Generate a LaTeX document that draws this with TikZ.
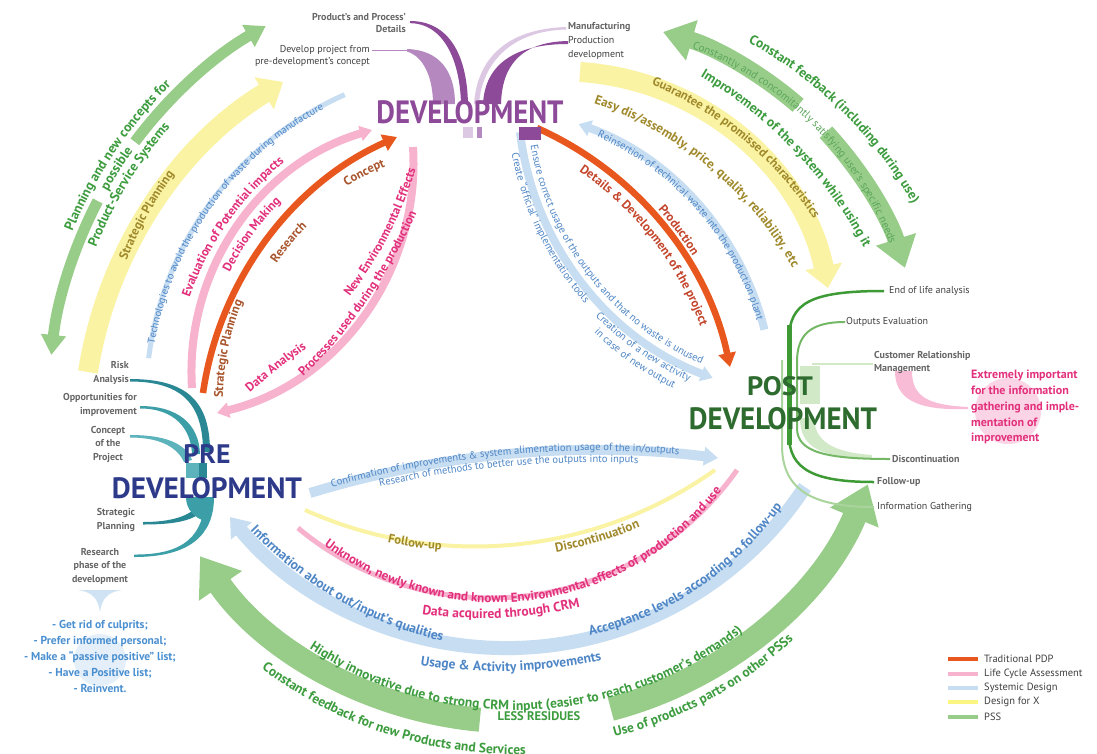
\documentclass[tikz,border=0pt]{standalone}
\usepackage{fontspec}
\setmainfont{PT Sans}
\usepackage{xfp}
\usepackage{graphicx}
\usetikzlibrary{arrows.meta,decorations.text}
\definecolor{cOr}{HTML}{E8571D}
\definecolor{cOrT}{HTML}{A9562E}
\definecolor{cOrT2}{HTML}{C4452B}
\definecolor{cPk}{HTML}{F7B3CE}
\definecolor{cPkT}{HTML}{E2307C}
\definecolor{cBl}{HTML}{C7DDF1}
\definecolor{cBlT}{HTML}{4E86C6}
\definecolor{cYe}{HTML}{FAF3A3}
\definecolor{cYeT}{HTML}{A0892B}
\definecolor{cGr}{HTML}{98CD89}
\definecolor{cGrT}{HTML}{3C9C3E}
\definecolor{cGrT2}{HTML}{5BA65A}
\definecolor{cPu}{HTML}{8C4A98}
\definecolor{cPuL}{HTML}{B588C0}
\definecolor{cPuLL}{HTML}{DCC8E3}
\definecolor{cNavy}{HTML}{2D3A8A}
\definecolor{cDG}{HTML}{2E6B2E}
\definecolor{cTeA}{HTML}{2A8895}
\definecolor{cTeB}{HTML}{3C9FA8}
\definecolor{cTeC}{HTML}{5DB3BB}
\definecolor{cLab}{HTML}{666666}
\definecolor{cLabD}{HTML}{404040}
\definecolor{cGA}{HTML}{3E9A35}
\definecolor{cGB}{HTML}{74B866}
\definecolor{cGC}{HTML}{A9D59C}
\definecolor{cGD}{HTML}{D2E9C8}
\definecolor{cPkL}{HTML}{FBD5E5}
\definecolor{cPkM}{HTML}{F8BCD6}
\definecolor{cBlL}{HTML}{CFE3F4}
\definecolor{cBlLL}{HTML}{E4EFF9}
\definecolor{cBlList}{HTML}{4A8FD0}
\newcommand\fb[1]{\fontsize{#1}{#1}\selectfont\bfseries}
\newcommand\fr[1]{\fontsize{#1}{#1}\selectfont}
\makeatletter
\def\arcfrom#1#2#3#4{\edef\ca@sx{\fpeval{round((#1)+(#3)*cosd(#4),3)}}\edef\ca@sy{\fpeval{round((#2)+(#3)*sind(#4),3)}}}
\newcommand\CB[6]{\arcfrom{#2}{#3}{#4}{#5}\draw[#1] (\ca@sx,\ca@sy) arc[start angle=#5,end angle=#6,radius=#4];}
\newcommand\CT[8]{\arcfrom{#3}{#4}{#5}{#6}\path[decorate,decoration={text along path,text align=center,#1,text={|#2|#8}}] (\ca@sx,\ca@sy) arc[start angle=#6,end angle=#7,radius=#5];}
\def\circ@calc(#1,#2)(#3,#4)(#5,#6){%
 \edef\ca@d{\fpeval{2*((#1)*((#4)-(#6))+(#3)*((#6)-(#2))+(#5)*((#2)-(#4)))}}%
 \edef\ca@cx{\fpeval{round((((#1)^2+(#2)^2)*((#4)-(#6))+((#3)^2+(#4)^2)*((#6)-(#2))+((#5)^2+(#6)^2)*((#2)-(#4)))/\ca@d,4)}}%
 \edef\ca@cy{\fpeval{round((((#1)^2+(#2)^2)*((#5)-(#3))+((#3)^2+(#4)^2)*((#1)-(#5))+((#5)^2+(#6)^2)*((#3)-(#1)))/\ca@d,4)}}%
 \edef\ca@R{\fpeval{round(sqrt(((#1)-\ca@cx)^2+((#2)-\ca@cy)^2),3)}}%
 \edef\ca@a{\fpeval{atand((#2)-\ca@cy,(#1)-\ca@cx)}}%
 \edef\ca@b{\fpeval{atand((#4)-\ca@cy,(#3)-\ca@cx)}}%
 \edef\ca@c{\fpeval{atand((#6)-\ca@cy,(#5)-\ca@cx)}}%
 \edef\ca@db{\fpeval{(\ca@b-\ca@a)-360*floor((\ca@b-\ca@a)/360)}}%
 \edef\ca@dc{\fpeval{(\ca@c-\ca@a)-360*floor((\ca@c-\ca@a)/360)}}%
 \edef\ca@span{\fpeval{(\ca@db<\ca@dc) ? \ca@dc : \ca@dc-360}}%
}
\def\PB#1#2#3(#4)(#5)(#6){%
 \circ@calc(#4)(#5)(#6)%
 \edef\ca@s{\fpeval{round(\ca@a+(#2)*\ca@span,4)}}%
 \edef\ca@e{\fpeval{round(\ca@a+(#3)*\ca@span,4)}}%
 \arcfrom{\ca@cx}{\ca@cy}{\ca@R}{\ca@s}%
 \draw[#1] (\ca@sx,\ca@sy) arc[start angle=\ca@s,end angle=\ca@e,radius=\ca@R];}
\def\PT#1#2(#3)(#4)(#5)#6{%
 \circ@calc(#3)(#4)(#5)%
 \edef\ca@s{\fpeval{round(\ca@a-0.3*\ca@span,4)}}%
 \edef\ca@e{\fpeval{round(\ca@a+1.3*\ca@span,4)}}%
 \arcfrom{\ca@cx}{\ca@cy}{\ca@R}{\ca@s}%
 \path[decorate,decoration={text along path,text align=center,#1,text={|#2|#6}}] (\ca@sx,\ca@sy) arc[start angle=\ca@s,end angle=\ca@e,radius=\ca@R];}
\makeatother
\tikzset{
 lab/.style={font=\fontsize{10}{12}\selectfont, text=cLabD, inner sep=0pt},
 labb/.style={font=\fontsize{10}{13.5}\selectfont\bfseries, text=cLab, inner sep=0pt},
 head/.style={inner sep=0pt, font=\bfseries},
 legtext/.style={anchor=west, inner sep=0pt, font=\fontsize{10.5}{12}\selectfont, text=cLabD}
}
\begin{document}
\begin{tikzpicture}[x=1pt,y=-1pt]
\useasboundingbox (0,0) rectangle (1097,753);
\fill[white] (0,0) rectangle (1097,753);

% ===== bands: pre -> development =====
\CB{cGr,line width=11pt,{Triangle[width=24pt,length=20pt]}-}{480}{400}{431}{186}{207.5}
\CB{cGr,line width=11pt,-{Triangle[width=24pt,length=20pt]}}{480}{400}{431}{216.8}{240.2}
\PB{cYe,line width=20pt,-{Triangle[width=36pt,length=22pt]}}{0}{1}(88,372)(147,215)(283,82)
\CB{cBl,line width=5pt}{480}{400}{334}{187.2}{246.1}
\PB{cPk,line width=8pt,-{Triangle[width=15pt,length=12pt]}}{0}{1}(192,388)(240,223)(372,130)
\PB{cOr,line width=6.5pt,-{Triangle[width=17pt,length=14pt]}}{0}{1}(203,393)(270,236)(397,137)
\PB{cPk,line width=8pt,-{Triangle[width=15pt,length=12pt]}}{0}{1}(413,147)(380,290)(217,413)

% ===== bands: development -> post =====
\PB{cOr,line width=6.5pt,-{Triangle[width=17pt,length=14pt]}}{0}{1}(537,128)(650,210)(730,367)
\CB{cBl,line width=8pt,-{Triangle[width=16pt,length=12pt]}}{480}{400}{293}{346.1}{289.7}
\PB{cYe,line width=20pt,-{Triangle[width=36pt,length=22pt]}}{0}{1}(580,72)(745,142)(828,288)
\PB{cGr,line width=17pt,{Triangle[width=40pt,length=30pt]}-}{0}{0.44}(663,32)(812,118)(905,268)
\PB{cGr,line width=17pt,-{Triangle[width=40pt,length=30pt]}}{0.55}{1}(663,32)(812,118)(905,268)
\CB{cBl,line width=8pt,-{Triangle[width=15pt,length=12pt]}}{818.5}{96.6}{300.6}{173.2}{110.6}

% ===== bands: post -> pre =====
\PB{cBl,line width=10pt,-{Triangle[width=18pt,length=14pt]}}{0}{1}(310,493)(500,455)(718,458)
\PB{cYe,line width=4pt}{0}{1}(305,510)(510,545)(715,470)
\PB{cPk,line width=5pt}{0}{1}(298,528)(525,596)(737,470)
\PB{cBl,line width=14pt,-{Triangle[width=26pt,length=18pt]}}{0}{1}(805,487)(515,648)(230,517)
\CB{cGr,line width=24pt,{Triangle[width=50pt,length=36pt]}-}{514.5}{339.3}{382}{145.4}{95.2}
\CB{cGr,line width=24pt,-{Triangle[width=50pt,length=36pt]}}{514.5}{339.3}{382}{75.4}{22.3}

% ===== fans =====
% development (purple)
\draw[cPuL,line width=1pt] (372,50) -- (408,50);
\fill[cPuL] (407,49) .. controls (440,50) and (455,72) .. (455,104) -- (433,104) .. controls (433,80) and (425,57) .. (407,51.5) -- cycle;
\fill[cPu] (410,21) .. controls (447,21) and (467,52) .. (468,104) -- (461,104) .. controls (460,58) and (442,23) .. (410,23.2) -- cycle;
\fill[cPuLL] (566,27) .. controls (505,29) and (477,60) .. (474,104) -- (479,104) .. controls (482,64) and (510,31) .. (566,29.5) -- cycle;
\fill[cPu] (568,41) .. controls (520,42) and (502,66) .. (501,104) -- (483,104) .. controls (485,64) and (515,44) .. (568,44) -- cycle;
\fill[cPuLL] (463,127) rectangle (473,138);
\fill[cPuL] (477,127) rectangle (482,138);
\fill[cPu] (519,127) rectangle (541,140);
% pre development (teal)
\fill[cTeA] (130,379) .. controls (188,379) and (210,402) .. (210,452) -- (203,452) .. controls (203,407) and (185,381.5) .. (130,381.5) -- cycle;
\fill[cTeB] (140,406) .. controls (178,406) and (199,424) .. (200,454) -- (192,454) .. controls (191,430) and (176,408.5) .. (140,408.5) -- cycle;
\fill[cTeC] (130,435) .. controls (165,435) and (185,443) .. (192,460) -- (184,462) .. controls (178,449) and (163,437.5) .. (130,437.5) -- cycle;
\fill[cTeC] (186,463) rectangle (199,478);
\fill[cTeA] (199,463) rectangle (207,478);
\fill[cTeA] (143,522) .. controls (180,522) and (198,512) .. (202,497) -- (210,497) .. controls (205,518) and (185,524.5) .. (143,524.5) -- cycle;
\fill[cTeB] (134,554.5) .. controls (185,555) and (204,535) .. (205,497) -- (214,497) .. controls (214,535) and (190,557) .. (134,557) -- cycle;
\fill[cTeB] (186,497) .. controls (186,510) and (195,518) .. (205,521) -- (212,497) -- cycle;
% post development (green)
\fill[cGD] (800,366) rectangle (820,404);
\fill[cGD] (800,418) .. controls (800,447) and (820,458) .. (872,458) -- (872,455) .. controls (830,452) and (815,440) .. (814,418) -- cycle;
\draw[cGD,line width=1.5pt] (873,364) -- (812,364);
\draw[cGA,line width=2.5pt] (884,291) .. controls (810,291) and (789,303) .. (789,340) -- (789,435) .. controls (789,470) and (815,482) .. (874,482);
\draw[cGA,line width=5pt] (789,325) -- (789,445);
\draw[cGB,line width=2pt] (845,322) .. controls (810,322) and (797,335) .. (797,362) -- (797,428) .. controls (797,452) and (825,459) .. (890,459);
\draw[cGC,line width=2pt] (874,507) .. controls (808,507) and (782,487) .. (782,445) -- (782,360);
% CRM note blob
\fill[cPkL] (1008,411) circle (33);
\fill[cPkM] (895,371) -- (912,371) .. controls (912,397) and (928,405) .. (968,407) -- (968,409) .. controls (915,411) and (895,398) .. (895,371) -- cycle;
% list funnel and circle
\fill[cBlL] (78,590) .. controls (92,592) and (98,598) .. (100,612) .. controls (102,598) and (108,592) .. (122,590) -- cycle;
\fill[cBlLL] (100,660) circle (26);

% ===== texts: pre -> development =====
\CT{text color=cGrT}{\fb{13.5}}{480}{400}{441}{196}{232}{Planning and new concepts for}
\CT{text color=cGrT}{\fb{13.5}}{480}{400}{427}{204}{221}{possible}
\CT{text color=cGrT}{\fb{13.5}}{480}{400}{413}{196}{227}{Product-Service Systems}
\CT{text color=cYeT}{\fb{12.5}}{480}{400}{380}{195}{223}{Strategic Planning}
\CT{text color=cBlT}{\fr{10.5}}{480}{400}{330}{180}{251.4}{Technologies to avoid the production of waste during manufacture}
\CT{text color=cPkT}{\fb{12.5}}{480}{400}{308}{193}{237}{Evaluation of Potential impacts}
\CT{text color=cPkT}{\fb{12.5}}{480}{400}{281}{202}{230}{Decision Making}
\CT{text color=cOrT}{\fb{12.5}}{480}{400}{257}{174}{209}{Strategic Planning}
\CT{text color=cOrT}{\fb{12.5}}{480}{400}{245}{209}{230}{Research}
\CT{text color=cOrT}{\fb{12.5}}{480}{400}{252}{234}{252}{Concept}
\PT{text color=cPkT}{\fb{12.5}}(345,303)(389,235)(418,162){New Environmental Effects}
\PT{text color=cPkT}{\fb{12.5}}(297,383)(368,300)(420,205){Processes used during the production}
\PT{text color=cPkT}{\fb{12.5}}(247,395)(281,367)(310,346){Data Analysis}

% ===== texts: development -> post =====
\CT{text color=cOrT2}{\fb{12.5}}{399}{437}{321}{296}{348}{Details {\&} Development of the project}
\CT{text color=cOrT2}{\fb{12.5}}{399}{437}{345}{313}{334}{Production}
\CT{text color=cBlT}{\fr{10.5}}{480}{400}{288}{284}{354}{Reinsertion of technical waste into the production plant}
\PT{text color=cYeT}{\fb{12.5}}(637,79)(742,139)(822,232){Guarantee the promissed characteristics}
\PT{text color=cYeT}{\fb{13}}(587,101)(709,168)(796,274){Easy dis/assembly, price, quality, reliability, etc}
\PT{text color=cGrT}{\fb{13.5}}(740,38)(839,109)(917,212){Constant feefback (including during use)}
\PT{text color=cGrT}{\fb{13.5}}(696,74)(795,152)(866,252){Improvement of the system while using it}
\PT{text color=cGrT2}{\fr{11}}(668,40)(809,122)(898,268){Constantly and concomitantly satisfying user's specific needs}
\CT{text color=cBlT}{\fr{10.5}}{818.5}{96.6}{292}{178}{106}{Ensure correct usage of the outputs and that no waste is unused}
\CT{text color=cBlT}{\fr{10.5}}{818.5}{96.6}{312}{176}{132}{Create “official” implementation tools}
\CT{text color=cBlT}{\fr{10.5}}{818.5}{96.6}{313}{140}{110}{Creation of a new activity}
\CT{text color=cBlT}{\fr{10.5}}{818.5}{96.6}{326}{138}{112}{in case of new output}

% ===== texts: post -> pre =====
\CT{text color=cBlT}{\fr{10.5}}{595.6}{1427.3}{976.5}{251}{278.2}{Confirmation of improvements {\&} system alimentation usage of the in/outputs}
\CT{text color=cBlT}{\fr{10.5}}{595.6}{1427.3}{965}{254.5}{275.1}{Research of methods to better use the outputs into inputs}
\PT{text color=cYeT}{\fb{12.5}}(387,542)(414,547)(442,550){Follow-up}
\PT{text color=cYeT}{\fb{13}}(553,553)(598,542)(643,526){Discontinuation}
\PT{text color=cPkT}{\fb{13}}(310,534)(525,601)(732,476){Unknown, newly known and known Environmental effects of production and use}
\PT{text color=cPkT}{\fb{13.5}}(422,614)(500,618)(580,607){Data acquired through CRM}
\PT{text color=cBlT}{\fb{13.5}}(248,528)(335,598)(445,642){Information about out/input's qualities}
\PT{text color=cBlT}{\fb{13.5}}(588,636)(693,592)(783,505){Acceptance levels according to follow-up}
\PT{text color=cBlT}{\fb{13.5}}(420,665)(510,671)(602,660){Usage {\&} Activity improvements}
\CT{text color=cGrT}{\fb{13.5}}{514.5}{339.3}{371}{137.8}{37.8}{Highly innovative due to strong CRM input (easier to reach customer's demands)}
\CT{text color=cGrT}{\fb{13.5}}{514.5}{339.3}{415}{138}{78}{Constant feedback for new Products and Services}
\CT{text color=cGrT}{\fb{13.5}}{514.5}{339.3}{410}{86}{37}{Use of products parts on other PSSs}
\node[inner sep=0pt, text=cGrT, font=\fb{12.5}] (less) at (539,716) {LESS RESIDUES};

% ===== headings =====
\node[head, text=cPu] (dev) at (470,112) {\resizebox{187pt}{23pt}{\bfseries DEVELOPMENT}};
\node[head, text=cNavy] (pre) at (207,454) {\resizebox{47pt}{19pt}{\bfseries PRE}};
\node[head, text=cNavy] (pred) at (207,488) {\resizebox{190pt}{21pt}{\bfseries DEVELOPMENT}};
\node[head, text=cDG] (post) at (780,386) {\resizebox{66pt}{19pt}{\bfseries POST}};
\node[head, text=cDG] (postd) at (783,419) {\resizebox{188pt}{22pt}{\bfseries DEVELOPMENT}};

% ===== labels =====
\node[labb, anchor=east, align=right, font=\fontsize{10}{12}\selectfont\bfseries] (dl1) at (406,23) {Product's and Process'\\Details};
\node[lab, anchor=east, align=right, font=\fontsize{10}{12.5}\selectfont] (dl2) at (370,56) {Develop project from\\pre-development's concept};
\node[lab, anchor=west, align=left, font=\fontsize{10}{14}\selectfont] (dl3) at (568,41) {\textcolor{cLab}{\bfseries Manufacturing}\\Production\\development};
\node[labb, anchor=east, align=right] (pl1) at (129,373) {Risk\\Analysis};
\node[labb, anchor=east, align=right] (pl2) at (137,405) {Opportunities for\\improvement};
\node[labb, align=center] (pl3) at (108,444) {Concept\\of the\\Project};
\node[labb, align=center] (pl4) at (116,520) {Strategic\\Planning};
\node[labb, align=center] (pl5) at (100,566) {Research\\phase of the\\development};
\node[lab, anchor=west] (ql1) at (889,291) {End of life analysis};
\node[lab, anchor=west] (ql2) at (846,322) {Outputs Evaluation};
\node[labb, anchor=west, align=left, font=\fontsize{10}{13}\selectfont\bfseries] (ql3) at (874,362) {Customer Relationship\\Management};
\node[labb, anchor=west] (ql4) at (892,459) {Discontinuation};
\node[labb, anchor=west] (ql5) at (877,482) {Follow-up};
\node[lab, anchor=west] (ql6) at (877,507) {Information Gathering};
\node[anchor=north west, align=left, inner sep=0pt, font=\fontsize{12}{15.8}\selectfont\bfseries, text=cPkT] (note) at (971,370) {Extremely important\\for the information\\gathering and imple-\\mentation of\\improvement};
\node[align=center, inner sep=0pt, font=\fontsize{11.5}{16}\selectfont\bfseries, text=cBlList] (list) at (100,656) {- Get rid of culprits;\\- Prefer informed personal;\\- Make a “passive positive” list;\\- Have a Positive list;\\- Reinvent.};

% ===== legend =====
\draw[cOr, line width=4pt] (948,659) -- (978,659);
\draw[cPk, line width=3.5pt] (948,674) -- (978,674);
\draw[cBl, line width=3.5pt] (948,688) -- (978,688);
\draw[cYe!80!yellow, line width=3.5pt] (948,702) -- (978,702);
\draw[cGr, line width=3.5pt] (948,717) -- (978,717);
\node[legtext] (lg1) at (984,659) {Traditional PDP};
\node[legtext] (lg2) at (984,674) {Life Cycle Assessment};
\node[legtext] (lg3) at (984,688) {Systemic Design};
\node[legtext] (lg4) at (984,702) {Design for X};
\node[legtext] (lg5) at (984,717) {PSS};
\end{tikzpicture}
\end{document}
